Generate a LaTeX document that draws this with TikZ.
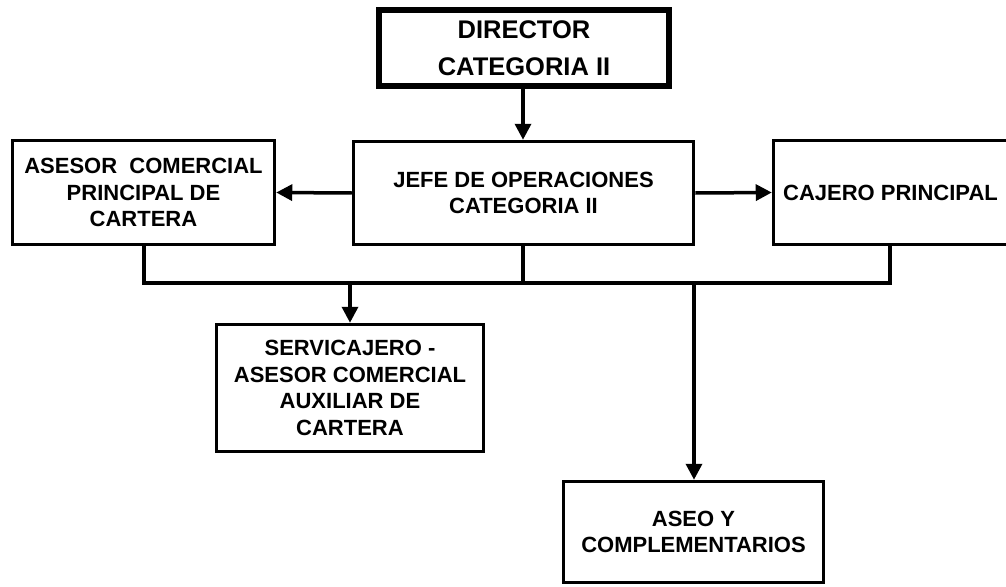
\documentclass[tikz,border=0pt]{standalone}
\usepackage{fontspec}
\setmainfont{Liberation Sans}
\usetikzlibrary{arrows.meta}
\begin{document}
\begin{tikzpicture}[x=1pt,y=-1pt,
  unit/.style={draw=black, line width=3.5pt, fill=white, rectangle, align=center,
    inner sep=0pt, font=\fontsize{22}{26.5}\selectfont\bfseries},
  head/.style={unit, line width=6pt, font=\fontsize{25.5}{37}\selectfont\bfseries},
  link/.style={line width=3.5pt, line cap=rect},
  feed/.style={line width=3.5pt, -{Triangle[length=16pt,width=16pt]}}]
\useasboundingbox (0,0) rectangle (1006,586);

% boxes
\node[head, minimum width=290pt, minimum height=76pt] (dir) at (524,48)
  {DIRECTOR\\CATEGORIA II};
\node[unit, minimum width=340pt, minimum height=103pt] (jefe) at (523.5,193)
  {JEFE DE OPERACIONES\\CATEGORIA II};
\node[unit, minimum width=262pt, minimum height=104pt] (ases) at (143.5,192.5)
  {ASESOR\ \ COMERCIAL\\PRINCIPAL DE\\CARTERA};
\node[unit, minimum width=234pt, minimum height=104pt] (caj) at (890.5,192.5)
  {CAJERO PRINCIPAL};
\node[unit, minimum width=267pt, minimum height=127pt] (serv) at (350,388)
  {SERVICAJERO -\\ASESOR COMERCIAL\\AUXILIAR DE\\CARTERA};
\node[unit, minimum width=260pt, minimum height=101pt] (aseo) at (693.5,532)
  {ASEO Y\\COMPLEMENTARIOS};

% bus joining the three upper units
\coordinate (busL) at (144,283);
\coordinate (busR) at (890,283);
\coordinate (busJ) at (523,283);
\coordinate (tapS) at (350,283);
\coordinate (tapA) at (694,283);

% connectors
\draw[feed] (dir.south -| 523,0) -- (jefe.north -| 523,0);
\draw[feed] (jefe.west) -- (ases.east);
\draw[feed] (jefe.east) -- (caj.west);
\draw[link] (ases.south -| busL) -- (busL) -- (busR) -- (caj.south -| busR);
\draw[link] (jefe.south -| busJ) -- (busJ);
\draw[feed] (tapS) -- (serv.north -| tapS);
\draw[feed] (tapA) -- (aseo.north -| tapA);
\end{tikzpicture}
\end{document}
